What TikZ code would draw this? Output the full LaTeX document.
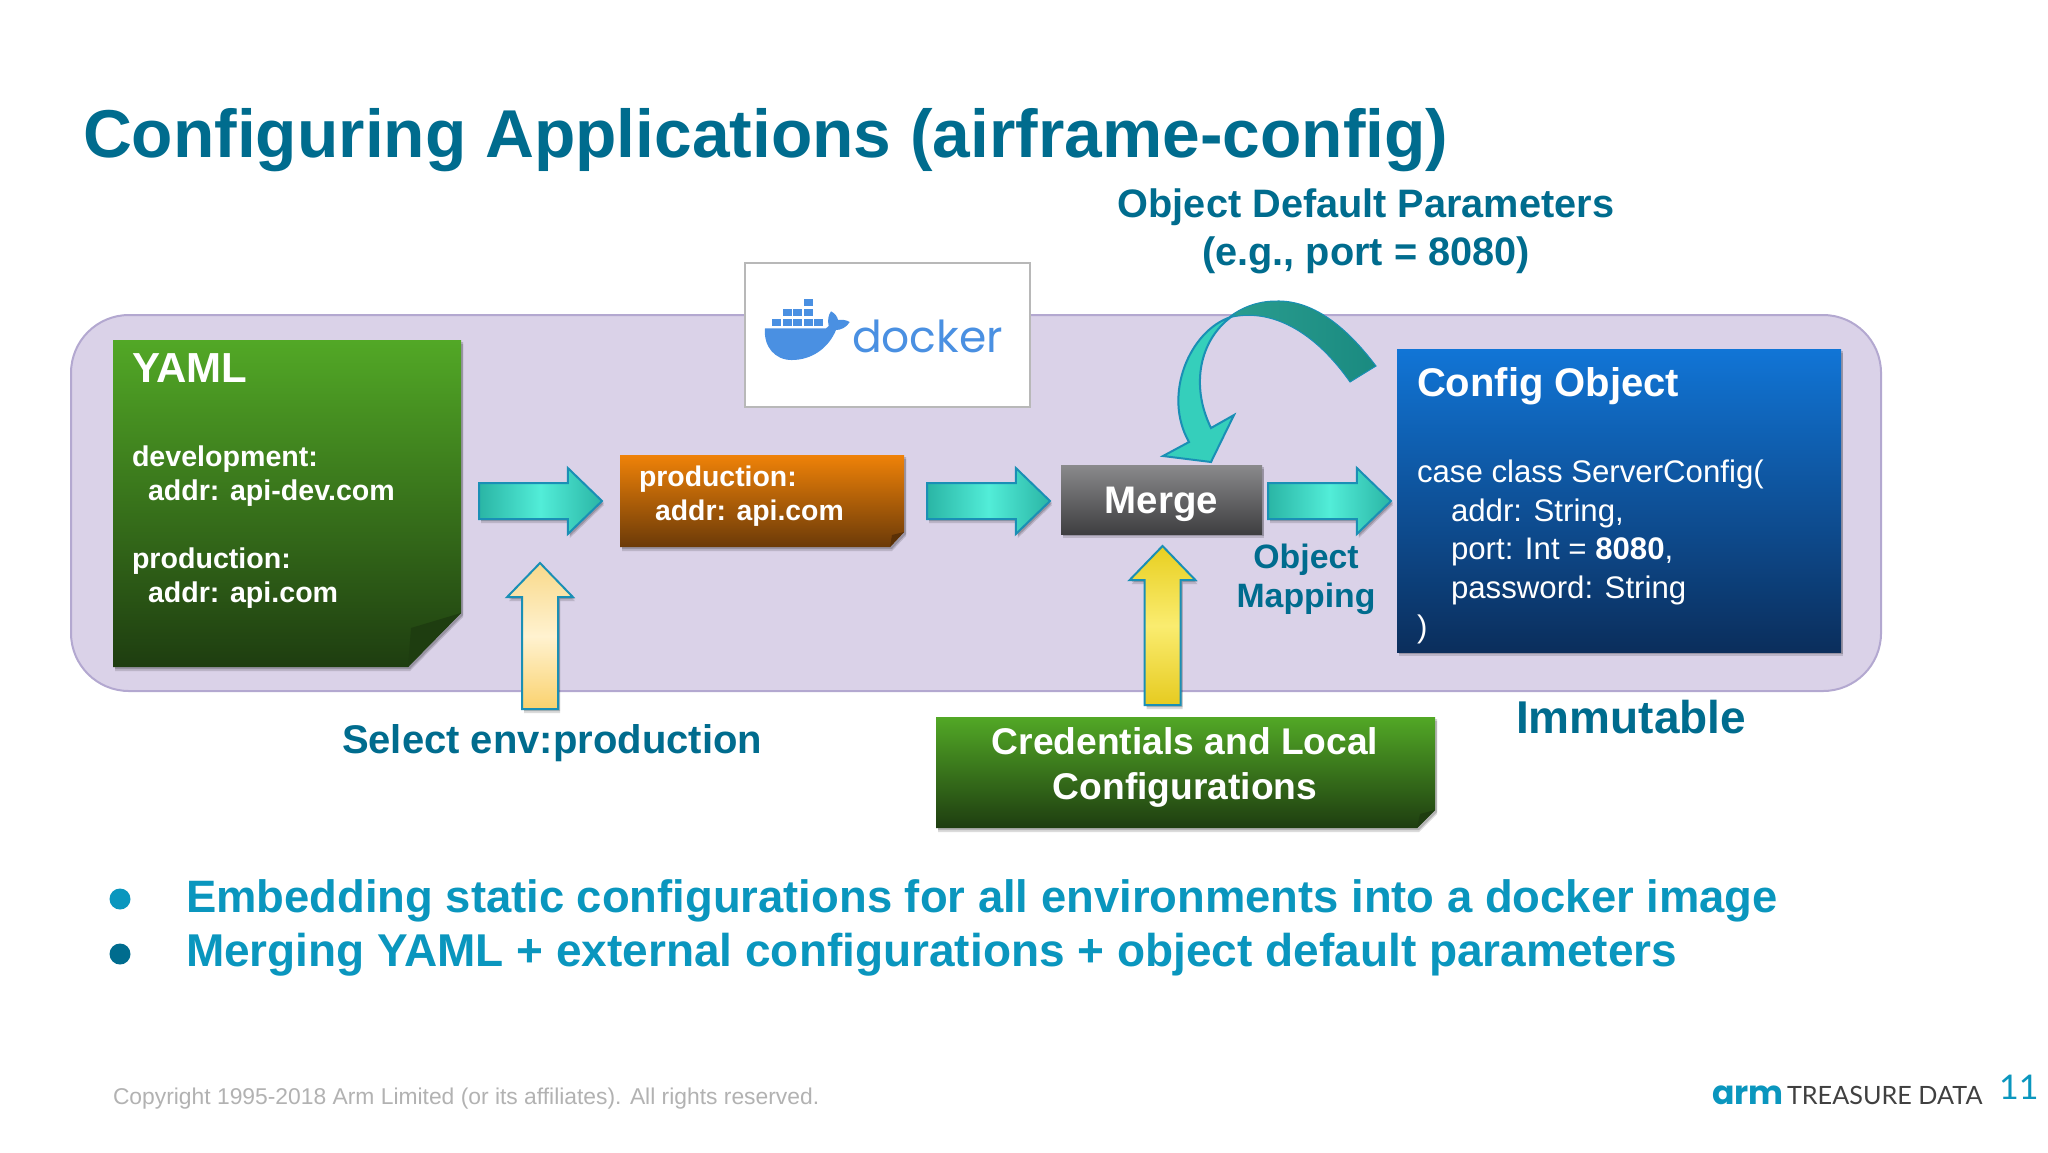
\documentclass[tikz,border=0pt]{standalone}
\usepackage{fontspec}
\setmainfont{Liberation Sans}
\newfontfamily\logofont{Poppins}
\newfontfamily\lightfont{Lato}
\usetikzlibrary{shapes.arrows,shadows}
\definecolor{titleblue}{HTML}{006C8E}
\definecolor{bulletblue}{HTML}{0A96BE}
\definecolor{lilac}{HTML}{DAD2E8}
\definecolor{lilacedge}{HTML}{B3A8D0}
\definecolor{arrowedge}{HTML}{1A8FB5}
\definecolor{dockerblue}{HTML}{4A90E2}
\definecolor{tealside}{HTML}{2AB5A5}
\definecolor{tealmid}{HTML}{52EDD8}
\definecolor{greentop}{HTML}{52A826}
\definecolor{greenbot}{HTML}{1E3D10}
\definecolor{orangetop}{HTML}{EF8208}
\definecolor{orangebot}{HTML}{6B3A08}
\definecolor{orangefold}{HTML}{5A3005}
\definecolor{graytop}{HTML}{8A8A8C}
\definecolor{graybot}{HTML}{3E3E40}
\definecolor{bluetop}{HTML}{1175D6}
\definecolor{bluebot}{HTML}{0B2E5C}
\definecolor{paletop}{HTML}{F8D98A}
\definecolor{palebot}{HTML}{FAD26E}
\definecolor{palemid}{HTML}{FFF2D0}
\definecolor{yeltop}{HTML}{E8CF20}
\definecolor{yelbot}{HTML}{E6CB20}
\definecolor{yelmid}{HTML}{FAEC70}
\definecolor{ribbondark}{HTML}{2A9D8F}
\definecolor{ribbondarker}{HTML}{1A8A80}
\definecolor{ribbonlight}{HTML}{35CFBB}
\tikzset{
  softshadow/.style={
    drop shadow={shadow xshift=1pt,shadow yshift=-1pt,opacity=.18,fill=black},
    drop shadow={shadow xshift=1pt,shadow yshift=-2pt,opacity=.14,fill=black}},
  txt/.style={inner sep=0pt,outer sep=0pt,text=#1},
  txt/.default=white,
  titletext/.style={txt=titleblue,font=\bfseries\fontsize{#1}{#1}\selectfont},
  block/.style={single arrow,inner sep=8.5pt,outer sep=0pt,draw=arrowedge,line width=1pt,
    single arrow head extend=7.5pt,single arrow tip angle=88,anchor=tip,softshadow},
  tealarrow/.style={block,minimum height=61.5pt,left color=tealside,right color=tealside,middle color=tealmid},
  uparrow/.style={block,shape border rotate=90},
  box/.style={inner sep=0pt,outer sep=0pt,softshadow},
  bullet/.style={circle,inner sep=0pt,minimum size=10.5pt},
}
\begin{document}
\begin{tikzpicture}[x=0.5pt,y=-0.5pt]
\useasboundingbox[fill=white] (0,0) rectangle (2048,1152);

\node[titletext=33.85,anchor=base west] (title) at (83,157) {Configuring Applications (airframe-config)};

% Band
\filldraw[fill=lilac,draw=lilacedge,line width=1pt,rounded corners=29pt] (71,315) rectangle (1881,691);

% Docker card
\node[draw=black!28,fill=white,line width=1pt,minimum width=142.5pt,minimum height=72pt,inner sep=0pt,anchor=north west] (dockerbox) at (744,262) {};
\begin{scope}[shift={(750,270)},x=0.1667pt,y=-0.1667pt]
  \fill[dockerblue] (45,175) -- (228,175) -- (236,168) .. controls (232,150) and (235,135) .. (243,124)
     .. controls (255,130) and (262,140) .. (264,150) .. controls (275,148) and (290,150) .. (299,156)
     .. controls (290,172) and (272,180) .. (258,180) .. controls (235,235) and (185,270) .. (125,270)
     .. controls (75,270) and (40,230) .. (45,175) -- cycle;
  \foreach \c in {67,98,129,161,192}{\fill[dockerblue] (\c,146) rectangle ++(27,22);}
  \foreach \c in {98,129,161}{\fill[dockerblue] (\c,116) rectangle ++(27,23);}
  \fill[dockerblue] (161,87) rectangle ++(27,22);
\end{scope}
\node[txt=dockerblue,anchor=base west,font=\logofont\fontsize{22}{22}\selectfont] (dockerword) at (852,352) {docker};

% YAML
\path[box,top color=greentop,bottom color=greenbot]
  (113,340) -- (461,340) -- (461,613) -- (408,667) -- (113,667) -- cycle;
\fill[greenbot] (408,667) -- (461,613) -- (411,628) -- cycle;
\node[txt,anchor=base west,font=\bfseries\fontsize{21}{21}\selectfont] (yamlhead) at (132,382) {YAML};
\node[txt,anchor=north west,align=left,font=\bfseries\fontsize{14.3}{17}\selectfont] (yamlbody) at (132,445.5)
 {development:\\\hspace*{8pt}addr: api-dev.com\\[17pt]production:\\\hspace*{8pt}addr: api.com};

% Selected production
\path[box,top color=orangetop,bottom color=orangebot]
  (620,455) -- (904,455) -- (904,532) -- (890,547) -- (620,547) -- cycle;
\fill[orangefold] (890,547) -- (904,532) -- (892,535) -- cycle;
\node[txt,anchor=north west,align=left,font=\bfseries\fontsize{14.2}{17}\selectfont] (prodbody) at (639,466)
 {production:\\\hspace*{8pt}addr: api.com};

% Merge
\node[box,anchor=north west,minimum width=100.5pt,minimum height=34.5pt,text height=16.5pt,text depth=3pt,top color=graytop,bottom color=graybot,text=white,font=\bfseries\fontsize{19.2}{19.2}\selectfont] (merge) at (1061,465) {Merge};

% Config Object
\path[box,top color=bluetop,bottom color=bluebot]
  (1397,349) rectangle (1841,652);
\node[txt,anchor=base west,font=\bfseries\fontsize{20}{20}\selectfont] (confighead) at (1417,396) {Config Object};
\node[txt,anchor=north west,align=left,font=\fontsize{15.6}{19.3}\selectfont] (configbody) at (1417,460)
 {case class ServerConfig(\\\hspace*{17pt}addr: String,\\\hspace*{17pt}port: Int = \textbf{8080},\\\hspace*{17pt}password: String\\)};

% Arrows
\node[tealarrow] (a1) at (602,501) {};
\node[tealarrow] (a2) at (1050,501) {};
\node[tealarrow] (a3) at (1391,501) {};
\node[uparrow,minimum height=73pt,top color=paletop,bottom color=palebot,middle color=palemid] (y1) at (540,563) {};
\node[uparrow,minimum height=79.5pt,top color=yeltop,bottom color=yelbot,middle color=yelmid] (y2) at (1162.5,546) {};

% Curved ribbon
\path[draw=arrowedge,line width=.5pt,left color=ribbondark,right color=ribbondarker]
  (1376,366) .. controls (1345,325) and (1312,300) .. (1276,301) .. controls (1257,301) and (1240,308) .. (1228,318)
  .. controls (1265,308) and (1310,325) .. (1350,382) -- cycle;
\filldraw[draw=arrowedge,line width=1pt,fill=ribbonlight]
  (1231,317) .. controls (1190,330) and (1162,395) .. (1189,442) -- (1163,456) -- (1211,462) -- (1234,415) -- (1211,428)
  .. controls (1190,385) and (1200,340) .. (1231,317) -- cycle;

% Credentials
\path[box,top color=greentop,bottom color=greenbot]
  (936,717) -- (1435,717) -- (1435,810) -- (1417,828) -- (936,828) -- cycle;
\fill[greenbot] (1417,828) -- (1435,810) -- (1420,814) -- cycle;
\node[txt,align=center,anchor=north,font=\bfseries\fontsize{18.6}{22.5}\selectfont] (cred) at (1185,727.5) {Credentials and Local\\Configurations};

% Labels
\node[txt=titleblue,align=center,anchor=north,font=\bfseries\fontsize{19.85}{24}\selectfont] (defaults) at (1366,189) {Object Default Parameters\\(e.g., port = 8080)};
\node[titletext=20,anchor=base west] (select) at (342,753) {Select env:production};
\node[titletext=23,anchor=base west] (immutable) at (1516,733) {Immutable};
\node[txt=titleblue,align=center,anchor=north,font=\bfseries\fontsize{16.9}{19.5}\selectfont] (objmap) at (1306,544) {Object\\Mapping};

% Bullets
\node[bullet,fill=bulletblue] (b1) at (120,899) {};
\node[bullet,fill=titleblue] (b2) at (120,954) {};
\node[txt=bulletblue,anchor=base west,font=\bfseries\fontsize{22.7}{22.7}\selectfont] (t1) at (186,912) {Embedding static configurations for all environments into a docker image};
\node[txt=bulletblue,anchor=base west,font=\bfseries\fontsize{23}{23}\selectfont] (t2) at (186,966) {Merging YAML + external configurations + object default parameters};

% Footer
\node[txt=black!30,anchor=base west,font=\fontsize{11.42}{11.42}\selectfont] (copy) at (113,1104) {Copyright 1995-2018 Arm Limited (or its affiliates). All rights reserved.};
\node[txt=bulletblue,anchor=base west,font=\logofont\bfseries\fontsize{16.5}{16.5}\selectfont] (arm) at (1712,1104) {arm};
\node[txt=black!75,anchor=base west,font=\lightfont\fontsize{12.6}{12.6}\selectfont] (td) at (1787,1104) {TREASURE DATA};
\node[txt=bulletblue,anchor=base west,font=\lightfont\fontsize{17}{17}\selectfont] (page) at (1999,1099) {11};
\end{tikzpicture}
\end{document}
